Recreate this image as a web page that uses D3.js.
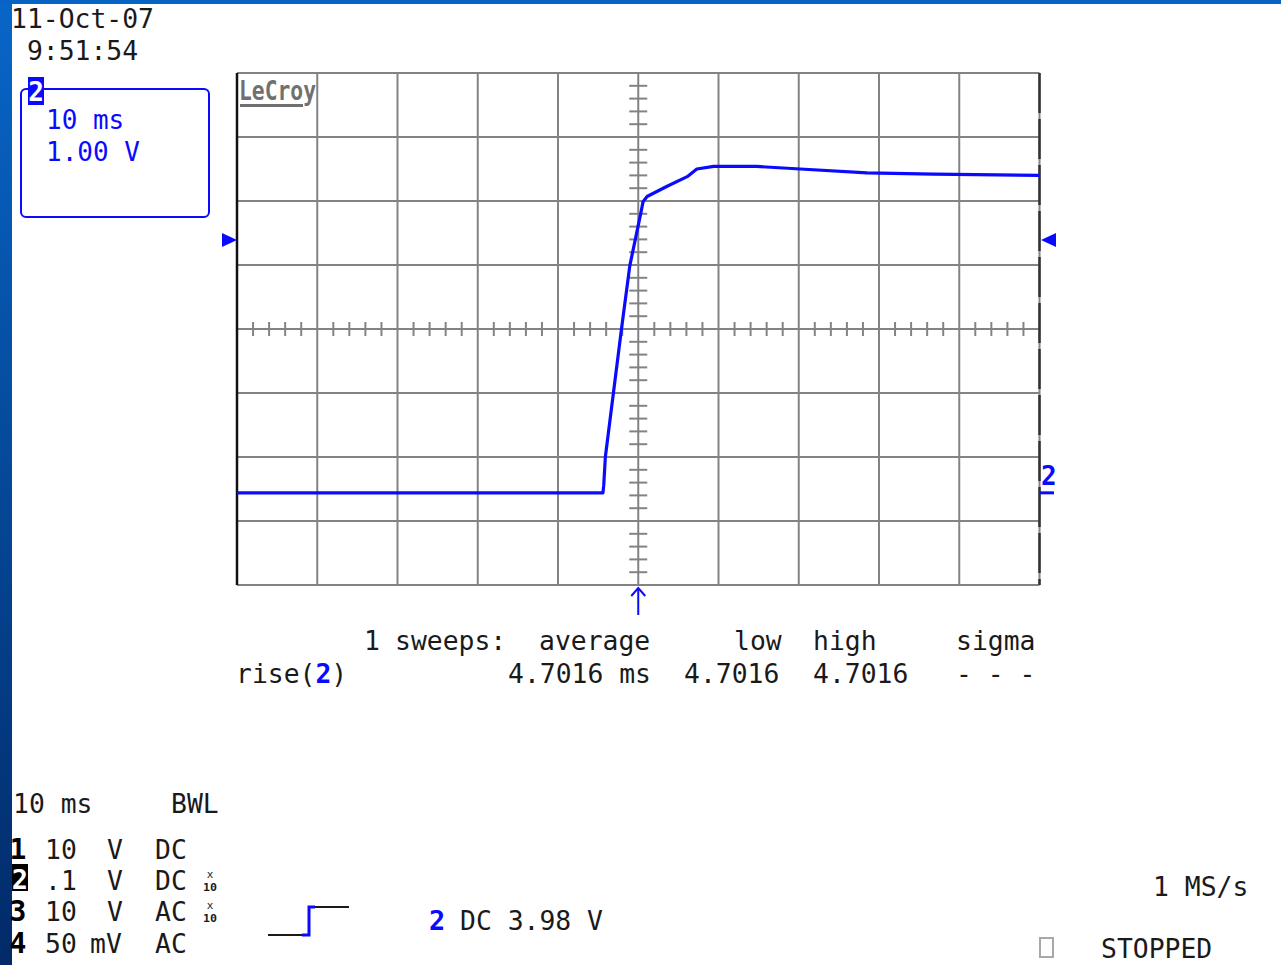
<!DOCTYPE html>
<html>
<head>
<meta charset="utf-8">
<script src="https://cdn.jsdelivr.net/npm/d3@7"></script>
<style>
  html, body { margin: 0; padding: 0; background: #fff; }
  svg { display: block; }
  text { font-family: "DejaVu Sans Mono", "Liberation Mono", monospace; }
</style>
</head>
<body>
<svg id="chart" width="1281" height="965"></svg>
<script>
// ---- data ----
const timeMs = [-50, -4.4, -4.3, -4.1, -2.1, -1.05, 0.35, 0.6, 1.1, 3.6, 6.1, 7.3, 9.4, 14.8, 20.2, 28.5, 36.8, 50];
const volts  = [0, 0, 0.12, 0.56, 2.55, 3.55, 4.39, 4.55, 4.63, 4.79, 4.94, 5.06, 5.10, 5.10, 5.06, 5.00, 4.98, 4.96];
const timeDomain = [-50, 50];          // 10 ms/div, 10 divisions
const voltDomain = [-1.44, 6.56];      // 1 V/div, 8 divisions, ground 2.56 div below centre
const triggerLevelDiv = 1.39;          // trigger marker, divisions above centre
const headerLines = ["11-Oct-07", " 9:51:54"];
const traceLabels = ["10 ms", "1.00 V"];
const measHeader = [["1", 364], ["sweeps:", 395], ["average", 539], ["low", 734], ["high", 813], ["sigma", 956]];
const measValues = [["4.7016 ms", 508], ["4.7016", 684], ["4.7016", 813], ["- - -", 956]];
const channelRows = [
  {ch: "1", scale: "10", unit: "V", coupling: "DC", probe: false},
  {ch: "2", scale: ".1", unit: "V", coupling: "DC", probe: true},
  {ch: "3", scale: "10", unit: "V", coupling: "AC", probe: true},
  {ch: "4", scale: "50", unit: "mV", coupling: "AC", probe: false}
];

const BLUE = "#0a0aff", GRID = "#838383", INK = "#1a1a1a";
const svg = d3.select("#chart");

// slide background frame
const defs = svg.append("defs");
const lg = defs.append("linearGradient").attr("id", "frame").attr("x1", 0).attr("y1", 0).attr("x2", 0).attr("y2", 1);
lg.append("stop").attr("offset", "0%").attr("stop-color", "#0866c8");
lg.append("stop").attr("offset", "100%").attr("stop-color", "#022a68");
svg.append("rect").attr("x", 0).attr("y", 0).attr("width", 1281).attr("height", 965).attr("fill", "url(#frame)");
svg.append("rect").attr("x", 0).attr("y", 0).attr("width", 1281).attr("height", 4).attr("fill", "#0864c4");
svg.append("rect").attr("x", 12).attr("y", 4).attr("width", 1269).attr("height", 961).attr("fill", "#ffffff");

// scales
const x = d3.scaleLinear().domain(timeDomain).range([237, 1039.5]);
const y = d3.scaleLinear().domain(voltDomain).range([585, 73]);
const yMid = (voltDomain[0] + voltDomain[1]) / 2;
const xc = x(0), yc = y(yMid);

// grid
const g = svg.append("g");
const vLines = d3.range(timeDomain[0], timeDomain[1] + 0.001, 10);
const hLines = d3.range(0, 9).map(k => voltDomain[0] + k);
g.selectAll("line.v").data(vLines).join("line")
  .attr("x1", d => x(d)).attr("x2", d => x(d)).attr("y1", y(voltDomain[1])).attr("y2", y(voltDomain[0]))
  .attr("stroke", GRID).attr("stroke-width", 2);
g.selectAll("line.h").data(hLines).join("line")
  .attr("x1", x(timeDomain[0])).attr("x2", x(timeDomain[1])).attr("y1", d => y(d)).attr("y2", d => y(d))
  .attr("stroke", GRID).attr("stroke-width", 2);
// left / right borders
g.append("line").attr("x1", x(timeDomain[0])).attr("x2", x(timeDomain[0]))
  .attr("y1", y(voltDomain[1])).attr("y2", y(voltDomain[0])).attr("stroke", "#111").attr("stroke-width", 2.5);
g.append("line").attr("x1", x(timeDomain[1])).attr("x2", x(timeDomain[1]))
  .attr("y1", y(voltDomain[1])).attr("y2", y(voltDomain[0])).attr("stroke", "#333").attr("stroke-width", 2.5)
  .attr("stroke-dasharray", "40 6");

// centre axis minor ticks
const xMinor = d3.range(timeDomain[0], timeDomain[1] + 0.001, 2).filter(t => Math.abs(t % 10) > 0.01);
g.selectAll("line.xt").data(xMinor).join("line")
  .attr("x1", d => x(d)).attr("x2", d => x(d)).attr("y1", yc - 7).attr("y2", yc + 7)
  .attr("stroke", GRID).attr("stroke-width", 2);
const yMinor = d3.range(0, 41).filter(k => k % 5 !== 0).map(k => voltDomain[0] + k * 0.2);
g.selectAll("line.yt").data(yMinor).join("line")
  .attr("x1", xc - 9).attr("x2", xc + 9).attr("y1", d => y(d)).attr("y2", d => y(d))
  .attr("stroke", GRID).attr("stroke-width", 2);

// LeCroy logo
svg.append("text").attr("x", 239).attr("y", 100).text("LeCroy")
  .attr("font-family", "DejaVu Sans").attr("font-weight", "bold").attr("font-size", 26)
  .attr("fill", "#707070").attr("textLength", 77).attr("lengthAdjust", "spacingAndGlyphs");
svg.append("rect").attr("x", 240).attr("y", 104).attr("width", 63).attr("height", 3).attr("fill", "#707070");

// trace
const pts = timeMs.map((t, i) => [t, volts[i]]);
svg.append("path").datum(pts)
  .attr("d", d3.line().x(d => x(d[0])).y(d => y(d[1])))
  .attr("fill", "none").attr("stroke", BLUE).attr("stroke-width", 3.2).attr("stroke-linejoin", "round");

// trigger level markers
const trigY = y(yMid + triggerLevelDiv);
svg.append("path").attr("d", `M222,${trigY - 7} L237,${trigY} L222,${trigY + 7} Z`).attr("fill", BLUE);
svg.append("path").attr("d", `M1056,${trigY - 7} L1041,${trigY} L1056,${trigY + 7} Z`).attr("fill", BLUE);
// trigger position arrow
svg.append("line").attr("x1", xc).attr("x2", xc).attr("y1", 589).attr("y2", 615).attr("stroke", BLUE).attr("stroke-width", 2);
svg.append("path").attr("d", `M${xc - 7},${596} L${xc},${588} L${xc + 7},${596}`).attr("fill", "none").attr("stroke", BLUE).attr("stroke-width", 2);
// ground marker "2"
svg.append("text").attr("x", 1041).attr("y", 485).text("2").attr("font-size", 26).attr("font-weight", "bold").attr("fill", BLUE);
svg.append("rect").attr("x", 1040).attr("y", y(0) - 1.5).attr("width", 14).attr("height", 3).attr("fill", BLUE);

// header date/time
svg.selectAll("text.hdr").data(headerLines).join("text")
  .attr("x", 11).attr("y", (d, i) => 28 + i * 32).attr("xml:space", "preserve").style("white-space", "pre")
  .attr("font-size", 26.4).attr("fill", INK).text(d => d);

// channel 2 descriptor box
svg.append("rect").attr("x", 21).attr("y", 89).attr("width", 188).attr("height", 128).attr("rx", 5)
  .attr("fill", "none").attr("stroke", BLUE).attr("stroke-width", 2);
svg.append("rect").attr("x", 28).attr("y", 77).attr("width", 16).attr("height", 28).attr("fill", BLUE);
svg.append("text").attr("x", 36).attr("y", 101).attr("text-anchor", "middle").text("2")
  .attr("font-size", 26).attr("font-weight", "bold").attr("fill", "#fff");
svg.selectAll("text.tl").data(traceLabels).join("text")
  .attr("x", 46).attr("y", (d, i) => 129 + i * 32).attr("font-size", 26).attr("fill", BLUE).text(d => d);

// measurement table
svg.selectAll("text.mh").data(measHeader).join("text")
  .attr("x", d => d[1]).attr("y", 650).attr("font-size", 26.4).attr("fill", INK).text(d => d[0]);
const rise = svg.append("text").attr("x", 236).attr("y", 683).attr("font-size", 26.4).attr("fill", INK);
rise.append("tspan").text("rise(");
rise.append("tspan").text("2").attr("fill", BLUE).attr("font-weight", "bold");
rise.append("tspan").text(")");
svg.selectAll("text.mv").data(measValues).join("text")
  .attr("x", d => d[1]).attr("y", 683).attr("font-size", 26.4).attr("fill", INK)
  .attr("xml:space", "preserve").style("white-space", "pre").text(d => d[0]);

// bottom-left channel table
svg.append("text").attr("x", 13).attr("y", 813).attr("font-size", 26.4).attr("fill", INK).text("10 ms");
svg.append("text").attr("x", 171).attr("y", 813).attr("font-size", 26.4).attr("fill", INK).text("BWL");
const rowY = [859, 890, 921, 953];
channelRows.forEach((r, i) => {
  const by = rowY[i];
  if (r.ch === "2") {
    svg.append("rect").attr("x", 12).attr("y", by - 26).attr("width", 16).attr("height", 27).attr("fill", "#000");
    svg.append("text").attr("x", 20).attr("y", by - 1).attr("text-anchor", "middle").text(r.ch)
      .attr("font-size", 27).attr("font-weight", "bold").attr("fill", "#fff");
  } else {
    svg.append("text").attr("x", 18).attr("y", by).attr("text-anchor", "middle").text(r.ch)
      .attr("font-size", 28).attr("font-weight", "bold").attr("fill", "#000");
  }
  svg.append("text").attr("x", 45).attr("y", by).attr("font-size", 26.4).attr("fill", INK).text(r.scale);
  svg.append("text").attr("x", r.unit === "mV" ? 90 : 107).attr("y", by).attr("font-size", 26.4).attr("fill", INK).text(r.unit);
  svg.append("text").attr("x", 155).attr("y", by).attr("font-size", 26.4).attr("fill", INK).text(r.coupling);
  if (r.probe) {
    svg.append("text").attr("x", 210).attr("y", by - 12).attr("text-anchor", "middle").attr("font-size", 11).attr("fill", INK).text("x");
    svg.append("text").attr("x", 210).attr("y", by + 1).attr("text-anchor", "middle").attr("font-size", 11).attr("font-weight", "bold").attr("fill", INK)
      .attr("textLength", 14).attr("lengthAdjust", "spacingAndGlyphs").text("10");
  }
});

// trigger-type step icon
svg.append("path").attr("d", "M268,935 L302,935").attr("stroke", INK).attr("stroke-width", 2).attr("fill", "none");
svg.append("path").attr("d", "M302,935 L309,935 L309,907 L315,907").attr("stroke", BLUE).attr("stroke-width", 3).attr("fill", "none");
svg.append("path").attr("d", "M315,907 L349,907").attr("stroke", INK).attr("stroke-width", 2).attr("fill", "none");

// trigger info
svg.append("text").attr("x", 429).attr("y", 930).attr("font-size", 27).attr("font-weight", "bold").attr("fill", BLUE).text("2");
svg.append("text").attr("x", 460).attr("y", 930).attr("font-size", 26.4).attr("fill", INK).attr("xml:space", "preserve").style("white-space", "pre").text("DC 3.98 V");

// sample rate / status
svg.append("text").attr("x", 1153).attr("y", 896).attr("font-size", 26.4).attr("fill", INK).attr("xml:space", "preserve").style("white-space", "pre").text("1 MS/s");
svg.append("rect").attr("x", 1040).attr("y", 938).attr("width", 13).attr("height", 19).attr("fill", "none").attr("stroke", "#a8a8a8").attr("stroke-width", 2);
svg.append("text").attr("x", 1101).attr("y", 958).attr("font-size", 26.4).attr("fill", INK).text("STOPPED");
</script>
</body>
</html>
